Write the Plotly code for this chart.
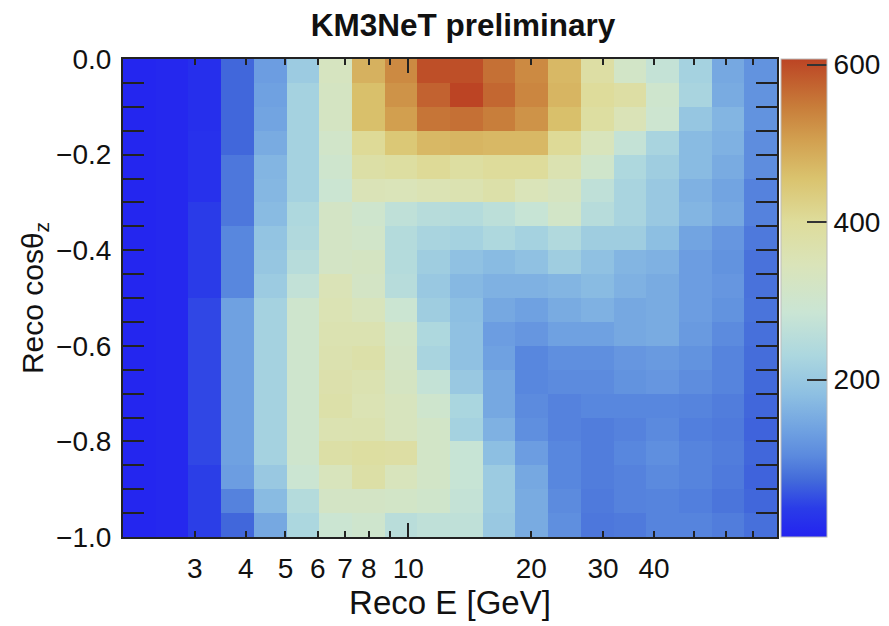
import numpy as np
import plotly.graph_objects as go

# ---- data -------------------------------------------------------------
E_MIN, E_MAX, N_E = 2.0, 80.0, 20          # Reco E binning [GeV], log bins
COS_MIN, COS_MAX, N_COS = -1.0, 0.0, 20     # Reco cos(theta_z) binning

# counts per bin, rows from cos=0 (top) down to cos=-1 (bottom), columns low E -> high E
counts = [
    [5, 8, 18, 70, 130, 205, 330, 480, 530, 595, 595, 560, 530, 470, 385, 315, 275, 220, 145, 115],
    [5, 8, 18, 70, 135, 220, 325, 460, 520, 575, 607, 570, 535, 475, 400, 385, 300, 225, 150, 115],
    [5, 8, 18, 70, 140, 220, 325, 460, 505, 555, 560, 545, 520, 460, 390, 350, 295, 195, 165, 115],
    [5, 8, 20, 70, 150, 220, 310, 405, 445, 470, 475, 470, 470, 405, 340, 275, 225, 175, 160, 108],
    [5, 8, 20, 85, 165, 220, 300, 380, 390, 405, 390, 400, 400, 360, 305, 235, 210, 175, 150, 108],
    [5, 8, 20, 85, 168, 220, 290, 350, 345, 355, 360, 375, 345, 330, 265, 225, 200, 160, 140, 95],
    [5, 8, 35, 85, 175, 235, 320, 300, 265, 250, 245, 260, 280, 315, 250, 225, 200, 165, 145, 95],
    [5, 8, 35, 100, 190, 240, 320, 310, 245, 225, 220, 235, 220, 240, 210, 210, 180, 140, 120, 87],
    [5, 8, 35, 100, 195, 250, 320, 325, 245, 210, 185, 175, 185, 210, 185, 165, 160, 130, 115, 80],
    [5, 8, 35, 100, 205, 270, 350, 320, 250, 200, 170, 160, 160, 165, 175, 160, 150, 130, 120, 80],
    [5, 8, 45, 135, 220, 300, 355, 340, 290, 210, 180, 145, 135, 150, 160, 145, 150, 130, 115, 82],
    [5, 8, 45, 135, 220, 300, 360, 360, 315, 235, 185, 130, 120, 135, 135, 145, 150, 125, 105, 78],
    [5, 8, 45, 135, 220, 300, 365, 375, 320, 225, 185, 135, 100, 110, 110, 120, 125, 115, 97, 75],
    [5, 8, 45, 135, 220, 300, 370, 360, 325, 275, 200, 145, 100, 105, 105, 115, 120, 108, 97, 72],
    [5, 8, 45, 135, 220, 300, 375, 355, 335, 300, 228, 145, 105, 95, 100, 100, 100, 97, 90, 70],
    [5, 8, 45, 135, 220, 300, 360, 362, 335, 315, 220, 160, 110, 95, 90, 95, 103, 92, 88, 67],
    [5, 8, 45, 135, 220, 300, 380, 390, 385, 315, 280, 180, 130, 100, 90, 100, 110, 97, 90, 70],
    [5, 8, 38, 130, 200, 290, 340, 380, 340, 315, 280, 205, 145, 100, 90, 95, 103, 97, 88, 67],
    [5, 8, 38, 95, 175, 245, 320, 320, 315, 305, 275, 205, 150, 105, 88, 95, 97, 92, 83, 70],
    [5, 8, 38, 70, 145, 230, 290, 300, 255, 265, 265, 200, 150, 110, 85, 88, 97, 97, 90, 78],
]

x_tick_vals = [3, 4, 5, 6, 7, 8, 10, 20, 30, 40]
x_tick_text = ["3", "4", "5", "6", "7", "8", "10", "20", "30", "40"]
x_minor_vals = [9, 50, 60, 70]
x_major_vals = [10]
y_tick_vals = [-1.0, -0.8, -0.6, -0.4, -0.2, 0.0]
y_tick_text = ["\u22121.0", "\u22120.8", "\u22120.6", "\u22120.4", "\u22120.2", "0.0"]
cbar_tick_vals = [200, 400, 600]
cbar_tick_text = ["200", "400", "600"]
Z_MIN, Z_MAX = 0, 607

# ---- binning ----------------------------------------------------------
e_edges = E_MIN * (E_MAX / E_MIN) ** (np.arange(N_E + 1) / N_E)
cos_edges = np.linspace(COS_MAX, COS_MIN, N_COS + 1)   # top row first
y_minor = [v for v in np.round(np.linspace(COS_MIN, COS_MAX, N_COS + 1), 3)
           if not np.isclose(v * 5, round(v * 5))]

colorscale = [
    [0.00, "rgb(35,35,240)"],
    [0.06, "rgb(42,60,232)"],
    [0.12, "rgb(67,107,218)"],
    [0.17, "rgb(91,138,222)"],
    [0.22, "rgb(110,160,225)"],
    [0.30, "rgb(142,192,226)"],
    [0.38, "rgb(172,215,223)"],
    [0.47, "rgb(202,229,212)"],
    [0.57, "rgb(218,228,185)"],
    [0.66, "rgb(222,220,155)"],
    [0.75, "rgb(218,195,110)"],
    [0.83, "rgb(210,160,80)"],
    [0.90, "rgb(200,125,58)"],
    [1.00, "rgb(188,68,36)"],
]

FONT = "Liberation Sans, Arial, Helvetica, sans-serif"
TXT = "#111111"
W, H = 889, 626
PLOT_L, PLOT_R, PLOT_T, PLOT_B = 123, 777, 59, 537

fig = go.Figure()
fig.add_trace(go.Heatmap(
    x=e_edges, y=cos_edges, z=counts,
    zmin=Z_MIN, zmax=Z_MAX, colorscale=colorscale, zsmooth=False,
    colorbar=dict(
        xref="container", yref="paper",
        thickness=46, thicknessmode="pixels",
        len=1, lenmode="fraction",
        y=0.5, yanchor="middle", ypad=0,
        x=781 / W, xanchor="left", xpad=0,
        tickvals=cbar_tick_vals, ticktext=cbar_tick_text,
        ticks="inside", ticklen=20, tickwidth=2, tickcolor="#333",
        tickfont=dict(family=FONT, size=28, color=TXT),
        outlinewidth=1, outlinecolor="#bbbbbb",
    ),
    hoverinfo="skip",
))
# empty trace to carry the overlay axis drawing the long decade tick
fig.add_trace(go.Scatter(x=[], y=[], xaxis="x2", showlegend=False, hoverinfo="skip"))

fig.update_layout(
    width=W, height=H,
    margin=dict(l=PLOT_L, r=W - PLOT_R, t=PLOT_T, b=H - PLOT_B),
    paper_bgcolor="white", plot_bgcolor="white",
    font=dict(family=FONT, size=28, color=TXT),
    title=dict(text="<b>KM3NeT preliminary</b>", x=463 / W, xanchor="center",
               y=1 - 25 / H, yanchor="middle", font=dict(family=FONT, size=31.5, color=TXT)),
    xaxis=dict(
        type="log", range=[np.log10(E_MIN), np.log10(E_MAX)],
        tickmode="array", tickvals=x_tick_vals, ticktext=x_tick_text,
        ticks="inside", ticklen=6, tickwidth=1.5, tickcolor="#222",
        minor=dict(tickmode="array", tickvals=x_minor_vals, ticks="inside",
                   ticklen=6, tickwidth=1.5, tickcolor="#222", showgrid=False),
        mirror="allticks", showline=True, linecolor="#222", linewidth=2,
        showgrid=False, zeroline=False, automargin=False,
        tickfont=dict(family=FONT, size=28, color=TXT), ticklabelstandoff=5,
        title=dict(text="Reco E [GeV]", font=dict(family=FONT, size=33, color=TXT), standoff=4),
    ),
    xaxis2=dict(
        type="log", range=[np.log10(E_MIN), np.log10(E_MAX)], overlaying="x", anchor="y",
        side="bottom", tickmode="array", tickvals=x_major_vals, showticklabels=False,
        ticks="inside", ticklen=14, tickwidth=1.5, tickcolor="#222",
        mirror="allticks", showline=False, showgrid=False, zeroline=False, automargin=False,
    ),
    yaxis=dict(
        range=[COS_MIN, COS_MAX],
        tickmode="array", tickvals=y_tick_vals, ticktext=y_tick_text,
        ticks="inside", ticklen=21, tickwidth=1.5, tickcolor="#222",
        minor=dict(tickmode="array", tickvals=y_minor, ticks="inside",
                   ticklen=11, tickwidth=1.5, tickcolor="#222", showgrid=False),
        mirror="allticks", showline=True, linecolor="#222", linewidth=2,
        showgrid=False, zeroline=False, automargin=False,
        tickfont=dict(family=FONT, size=28, color=TXT), ticklabelstandoff=4,
        title=dict(text="Reco cos\u03b8<sub>z</sub>", font=dict(family=FONT, size=30, color=TXT), standoff=4),
    ),
)

fig.write_html("out.html")
